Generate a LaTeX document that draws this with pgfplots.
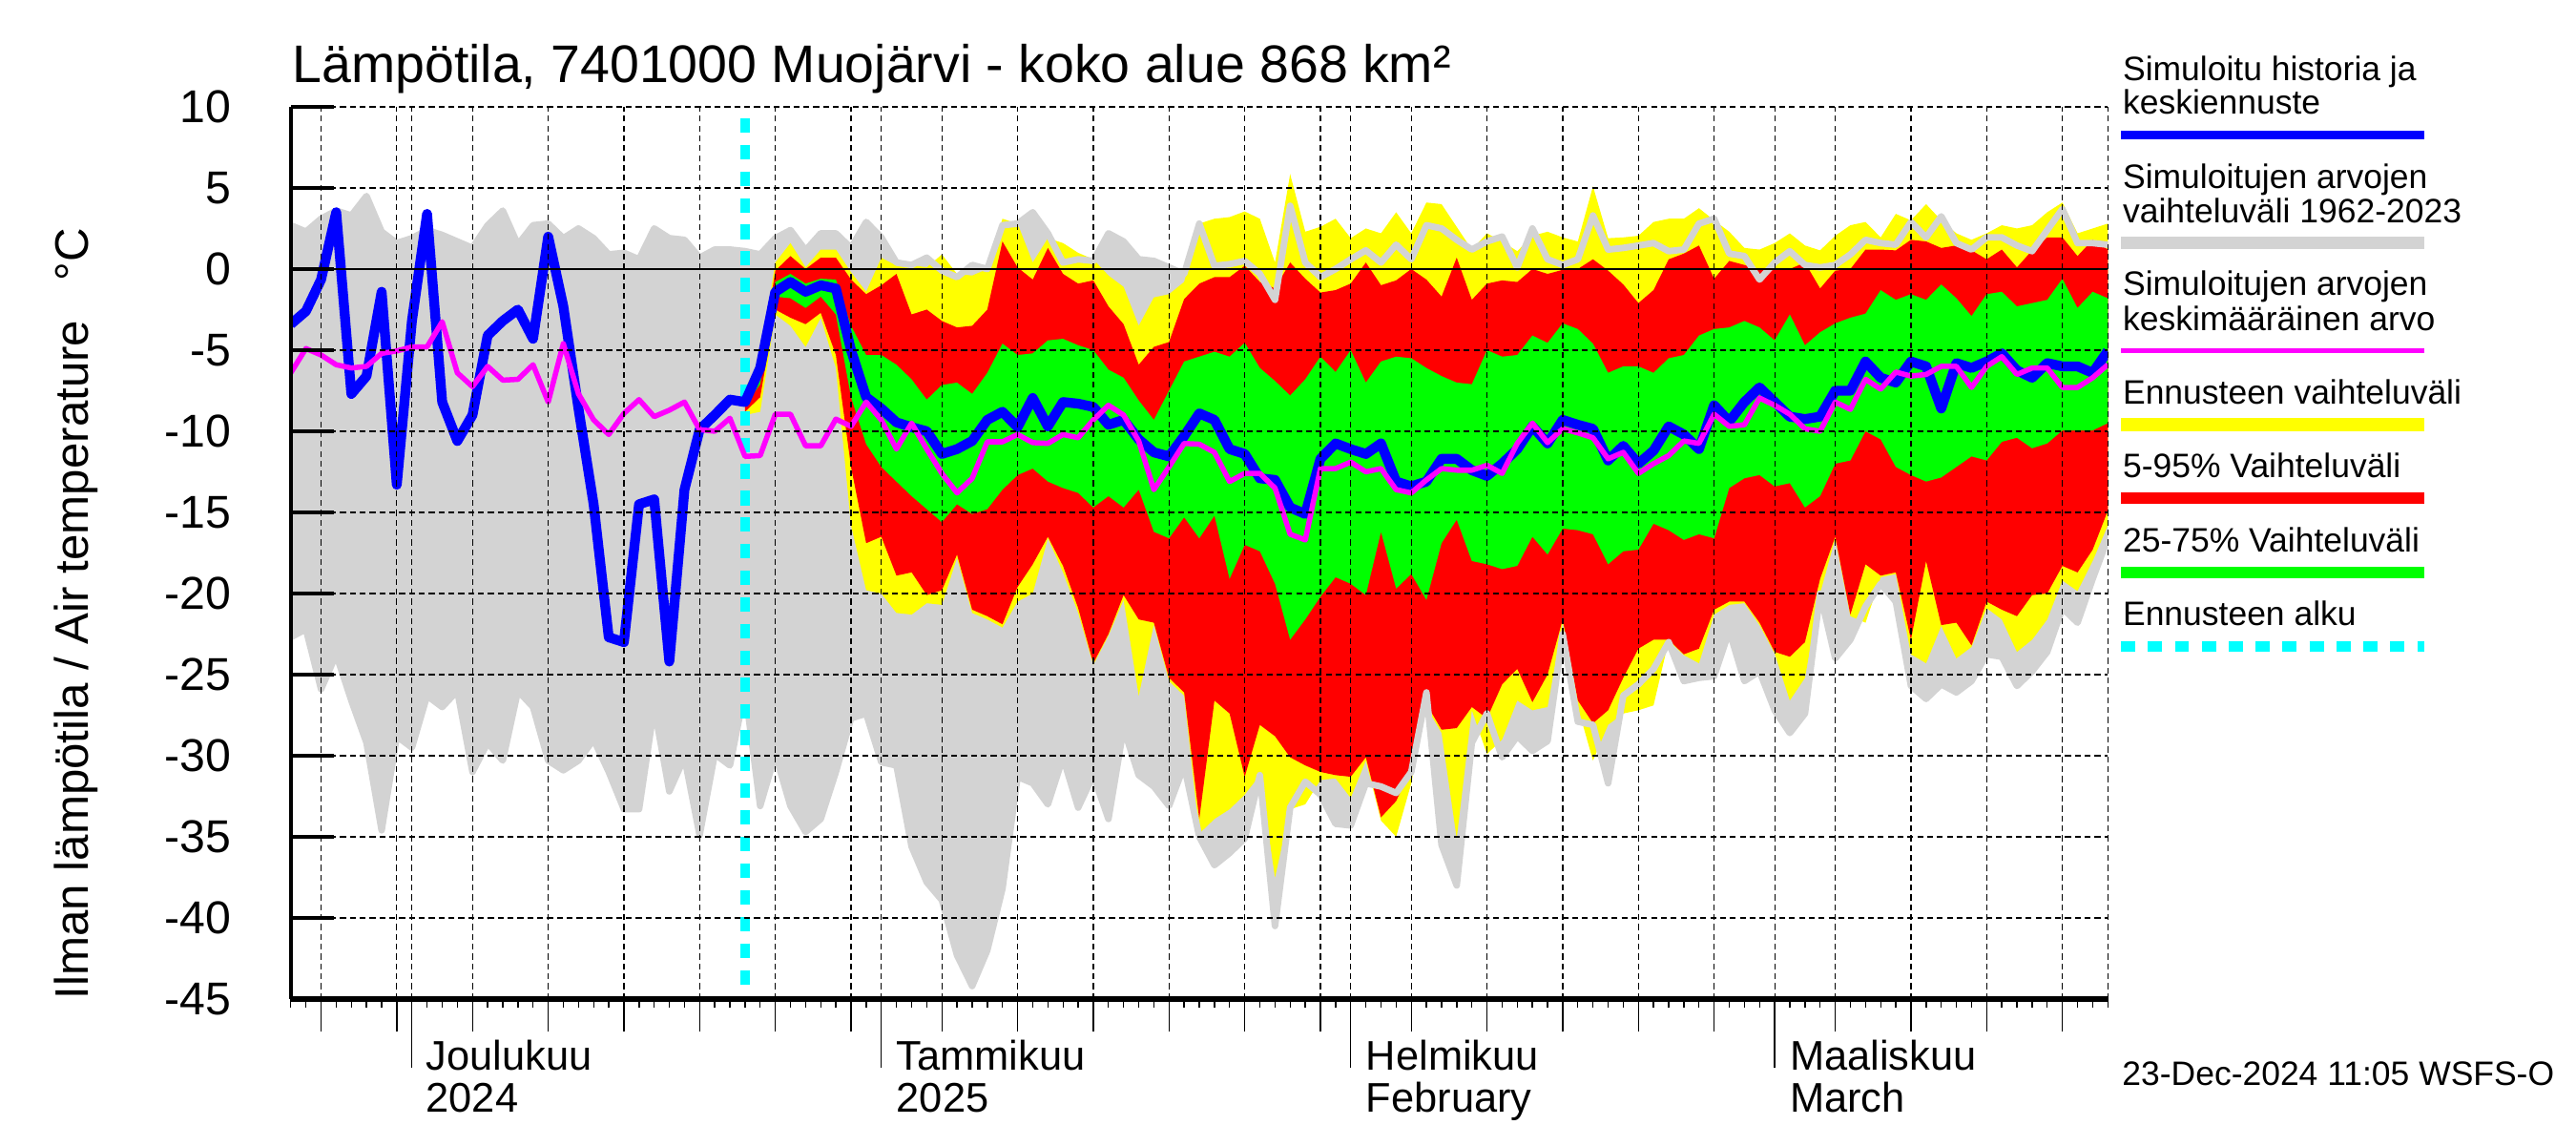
\documentclass[border=0pt]{standalone}
\usepackage{fontspec}
\setmainfont{Liberation Sans}
\usepackage{pgfplots}
\pgfplotsset{compat=1.18}
\usepackage{pgfplotstable}
\usepgfplotslibrary{fillbetween}
\definecolor{lgray}{RGB}{211,211,211}
\definecolor{cyanc}{RGB}{0,255,255}
\definecolor{magc}{RGB}{255,0,255}
\definecolor{yelc}{RGB}{255,255,0}
\definecolor{grnc}{RGB}{0,255,0}
\definecolor{redc}{RGB}{255,0,0}
\definecolor{bluc}{RGB}{0,0,255}

\pgfplotstableread{
d gu gl mn bl
0 2.7 -22.7 -6.4 -3.4
1 2.3 -22.2 -4.9 -2.6
2 3.1 -25.9 -5.3 -0.65
3 3.6 -23.75 -5.9 3.5
4 3.3 -26.6 -6.1 -7.7
5 4.5 -29.2 -6.0 -6.6
6 2.3 -34.6 -5.2 -1.4
7 1.6 -28.8 -5.05 -13.3
8 1.9 -29.5 -4.8 -3.2
9 2.4 -26.3 -4.8 3.4
10 2.1 -27.0 -3.25 -8.2
11 1.7 -26.0 -6.4 -10.6
12 1.3 -31.0 -7.25 -9.0
13 2.7 -29.2 -6.0 -4.1
14 3.6 -30.3 -6.85 -3.2
15 1.5 -26.0 -6.8 -2.5
16 2.7 -27.0 -5.9 -4.3
17 2.8 -30.3 -8.2 2.0
18 1.9 -30.9 -4.6 -2.3
19 2.5 -30.3 -7.7 -8.6
20 1.9 -29.0 -9.3 -14.5
21 0.9 -31.0 -10.2 -22.7
22 1.0 -33.3 -8.9 -23.0
23 0.6 -33.3 -8.05 -14.5
24 2.5 -27.0 -9.1 -14.2
25 1.9 -32.2 -8.7 -24.2
26 1.8 -30.1 -8.2 -13.6
27 0.7 -34.9 -9.9 -9.9
28 1.2 -29.9 -10.0 -9.0
29 1.2 -30.6 -9.2 -8.05
30 1.1 -25.9 -11.55 -8.2
31 0.9 -33.1 -11.5 -6.1
32 1.9 -29.9 -8.95 -1.4
33 2.4 -33.1 -8.95 -0.8
34 1.15 -34.7 -10.9 -1.4
35 2.2 -33.9 -10.9 -1.0
36 2.2 -31.0 -9.25 -1.2
37 1.3 -27.7 -9.7 -5.0
38 2.9 -27.4 -8.2 -7.9
39 1.95 -30.4 -9.3 -8.6
40 0.4 -30.6 -11.1 -9.45
41 0.25 -35.6 -9.5 -9.75
42 0.7 -37.8 -11.1 -10.0
43 -0.1 -38.9 -12.6 -11.4
44 -0.5 -42.3 -13.8 -11.1
45 0.25 -44.2 -12.9 -10.6
46 0 -42.0 -10.65 -9.3
47 2.7 -38.2 -10.65 -8.8
48 2.8 -31.3 -10.2 -9.75
49 3.5 -31.7 -10.7 -7.95
50 2.2 -33.0 -10.75 -9.7
51 0.4 -30.1 -10.2 -8.2
52 0.6 -33.2 -10.4 -8.3
53 0.5 -31.2 -9.3 -8.5
54 2.2 -33.9 -8.4 -9.6
55 1.7 -28.3 -9.0 -9.3
56 0.6 -31.2 -10.6 -10.5
57 0.5 -31.9 -13.6 -11.3
58 0.1 -33.1 -12.2 -11.55
59 -0.3 -30.6 -10.75 -10.3
60 2.8 -35.0 -10.8 -8.9
61 0.2 -36.75 -11.3 -9.3
62 0.3 -36.0 -13.1 -11.1
63 0.5 -35.1 -12.6 -11.4
64 -0.3 -31.2 -12.6 -12.9
65 -1.9 -40.5 -13.5 -13.0
66 3.9 -33.2 -16.35 -14.7
67 0.4 -31.6 -16.7 -15.1
68 -0.5 -32.4 -12.3 -11.7
69 0 -34.2 -12.3 -10.75
70 0.6 -34.3 -11.9 -11.1
71 1.15 -31.7 -12.5 -11.4
72 0.4 -31.9 -12.3 -10.75
73 1.5 -32.3 -13.6 -13.1
74 0.6 -31.0 -13.8 -13.4
75 2.7 -26.1 -13.0 -13.1
76 2.5 -35.5 -12.3 -11.7
77 1.8 -38.0 -12.4 -11.7
78 1.2 -29.2 -12.4 -12.4
79 1.7 -27.4 -12.1 -12.75
80 2.0 -30.1 -12.6 -12.0
81 0.1 -28.8 -10.75 -11.1
82 2.5 -29.7 -9.5 -9.7
83 0.6 -29.1 -10.7 -10.75
84 0.25 -22.5 -9.85 -9.3
85 0.6 -27.9 -10.1 -9.6
86 3.3 -28.1 -10.4 -9.85
87 1.2 -31.7 -11.7 -11.8
88 1.3 -26.3 -11.3 -10.9
89 1.45 -25.6 -12.6 -12.0
90 1.6 -24.65 -12.0 -11.2
91 1.1 -23.0 -11.5 -9.7
92 1.2 -25.4 -10.6 -10.2
93 2.8 -25.2 -10.75 -11.1
94 3.1 -25.1 -8.95 -8.4
95 0.95 -22.3 -9.7 -9.4
96 0.8 -25.4 -9.6 -8.2
97 -0.65 -24.8 -7.95 -7.3
98 0.4 -27.2 -8.4 -8.2
99 1.1 -28.6 -8.95 -9.1
100 0.25 -27.4 -9.85 -9.25
101 0.1 -20.0 -10.0 -9.1
102 0.25 -24.0 -8.2 -7.5
103 0.9 -22.85 -8.65 -7.5
104 1.8 -20.8 -6.8 -5.7
105 1.6 -19.4 -7.4 -6.7
106 1.5 -20.5 -6.35 -7.0
107 2.9 -25.7 -6.6 -5.7
108 1.95 -26.5 -6.5 -6.0
109 3.25 -25.6 -6.0 -8.6
110 1.6 -26.1 -6.0 -5.8
111 1.2 -25.4 -7.3 -6.1
112 1.95 -23.75 -6.0 -5.7
113 1.95 -23.9 -5.4 -5.2
114 1.45 -25.7 -6.5 -6.25
115 1.1 -24.8 -6.1 -6.7
116 2.4 -23.6 -6.1 -5.8
117 3.7 -20.9 -7.3 -6.0
118 1.6 -21.8 -7.3 -6.0
119 1.6 -19.1 -6.7 -6.4
120 1.5 -16.6 -5.9 -5.05
}\hist

\pgfplotstableread{
d yu ru gru grl rl yl
30 -7.4 -7.9 -8.1 -8.4 -8.8 -9.0
31 -5.5 -6.1 -6.4 -7.1 -7.9 -8.8
32 0.4 -0.1 -0.8 -1.7 -2.5 -2.8
33 1.6 0.8 -0.3 -1.8 -3.0 -3.5
34 0.1 0 -0.9 -2.4 -3.4 -4.8
35 1.2 0.7 -0.6 -1.7 -2.7 -3.0
36 1.2 0.7 -0.65 -2.8 -5.3 -6.1
37 -0.2 -0.65 -3.5 -7.9 -12.2 -15.8
38 -1.4 -1.55 -5.3 -10.8 -16.9 -19.8
39 0.7 -1.0 -5.3 -12.2 -16.5 -20.0
40 0.2 -0.3 -5.9 -13.1 -18.9 -21.2
41 0.25 -2.8 -6.8 -14.0 -18.7 -21.3
42 0.1 -2.5 -8.05 -14.8 -20.1 -20.6
43 0.9 -3.2 -7.15 -15.6 -19.8 -20.7
44 -0.3 -3.6 -7.0 -14.5 -17.6 -17.8
45 -0.4 -3.5 -7.7 -15.1 -21.0 -21.2
46 0 -2.5 -6.4 -14.8 -21.4 -21.6
47 3.1 1.7 -4.6 -13.6 -21.9 -22.1
48 2.8 0.1 -5.3 -12.7 -19.6 -20.5
49 0.4 -0.65 -5.2 -12.3 -18.2 -20.0
50 1.9 1.3 -4.4 -13.1 -16.5 -16.6
51 1.6 -0.3 -4.3 -13.5 -18.3 -18.7
52 1.0 -0.9 -4.7 -13.8 -20.9 -21.2
53 0.6 -0.7 -5.0 -14.7 -24.3 -24.4
54 -0.4 -2.3 -6.2 -14.0 -22.5 -22.6
55 -1.1 -3.4 -6.7 -14.7 -20.1 -20.4
56 -3.5 -5.9 -8.1 -13.6 -21.6 -26.3
57 -1.75 -4.8 -9.3 -16.2 -21.8 -21.9
58 -1.55 -4.5 -7.5 -16.6 -25.2 -25.4
59 -0.8 -1.85 -5.7 -15.3 -26.1 -26.3
60 2.8 -0.9 -5.4 -16.6 -33.9 -34.8
61 3.1 -0.5 -5.1 -15.2 -26.6 -33.9
62 3.2 -0.5 -5.4 -19.1 -27.4 -33.3
63 3.55 0.2 -4.55 -17.0 -31.3 -32.4
64 3.1 -0.8 -6.1 -17.4 -28.1 -31.2
65 0.4 -1.2 -6.9 -19.4 -28.8 -37.5
66 5.85 0.4 -7.8 -22.85 -30.1 -33.3
67 2.3 -0.6 -6.8 -21.6 -30.6 -33.0
68 2.6 -1.45 -5.4 -20.2 -31.0 -31.5
69 3.1 -1.3 -6.35 -19.0 -31.2 -31.4
70 1.9 -0.9 -5.0 -19.4 -31.3 -32.6
71 2.5 0.4 -7.0 -20.1 -30.1 -30.3
72 2.2 -1.0 -5.7 -16.2 -33.8 -34.0
73 3.5 -0.7 -5.4 -19.7 -32.8 -35.0
74 2.2 0 -5.5 -18.8 -30.8 -31.7
75 4.1 -0.65 -6.1 -20.4 -26.8 -27.0
76 4.0 -1.7 -6.6 -16.9 -28.4 -28.6
77 2.6 0.7 -7.0 -15.45 -28.3 -35.1
78 1.2 -1.9 -7.1 -18.0 -27.0 -27.2
79 2.2 -0.9 -5.0 -18.2 -27.7 -29.9
80 1.7 -0.7 -5.4 -18.5 -25.6 -29.0
81 1.1 -0.8 -5.3 -18.3 -24.65 -26.6
82 2.05 0 -4.1 -16.5 -26.7 -27.2
83 2.3 -0.3 -4.55 -17.6 -25.0 -27.0
84 1.95 -0.05 -3.35 -16.0 -21.6 -21.8
85 1.7 0 -3.7 -16.1 -26.6 -27.0
86 5.1 0.6 -4.6 -16.35 -28.0 -30.3
87 1.9 -0.1 -6.4 -18.2 -27.2 -28.1
88 1.95 -0.95 -6.0 -17.4 -25.2 -27.4
89 2.05 -2.1 -6.0 -17.3 -23.4 -27.2
90 2.9 -1.3 -6.4 -15.7 -22.85 -26.9
91 3.1 0.6 -5.5 -16.1 -22.85 -22.9
92 3.1 0.95 -5.3 -16.7 -23.75 -23.8
93 3.75 1.45 -4.1 -16.35 -23.4 -24.3
94 3.0 -0.6 -3.7 -16.6 -21.0 -21.3
95 2.3 0.5 -3.6 -13.5 -20.5 -20.7
96 1.3 0.25 -3.2 -12.9 -20.5 -20.6
97 1.2 -0.05 -3.6 -12.7 -21.8 -21.95
98 1.6 -0.05 -4.4 -13.4 -23.6 -23.7
99 2.2 0 -2.8 -13.2 -23.9 -26.6
100 1.45 0.4 -4.7 -14.7 -23.0 -25.2
101 1.15 -1.2 -3.9 -14.0 -19.1 -20.0
102 2.05 -0.1 -3.35 -12.0 -16.5 -16.6
103 2.7 0 -3.0 -11.8 -21.3 -21.4
104 2.9 1.2 -2.75 -10.0 -18.2 -21.8
105 1.95 1.2 -1.3 -10.5 -18.9 -19.0
106 3.4 1.15 -1.9 -12.2 -18.7 -18.8
107 3.0 1.8 -1.55 -12.7 -22.85 -23.75
108 4.0 1.7 -1.9 -13.1 -18.0 -24.3
109 3.0 1.3 -0.95 -12.85 -21.95 -22.0
110 2.2 1.45 -1.8 -12.2 -21.8 -24.0
111 1.8 1.15 -2.9 -11.55 -23.2 -23.3
112 2.2 0.6 -1.55 -11.8 -20.5 -20.9
113 2.7 1.2 -1.4 -10.65 -21.0 -21.6
114 2.5 0.1 -2.3 -10.4 -21.4 -23.6
115 2.7 1.15 -2.1 -11.05 -20.1 -22.85
116 3.5 1.95 -1.9 -10.75 -20.0 -21.6
117 4.1 1.95 -0.6 -9.95 -18.3 -19.2
118 2.2 0.8 -2.4 -9.95 -18.7 -19.85
119 2.5 1.8 -1.4 -9.95 -17.3 -18.0
120 2.8 1.2 -1.8 -9.5 -14.9 -15.8
}\fc

\begin{document}
\begin{tikzpicture}

\begin{axis}[
  at={(0pt,0pt)}, anchor=south west, scale only axis,
  width=553pt, height=271.5pt,
  xmin=0, xmax=120, ymin=-45, ymax=10,
  axis x line=bottom, axis y line=left,
  axis line style={-},
  x axis line style={line width=1.5pt},
  y axis line style={line width=1.2pt},
  xtick={2,7,8,12,17,22,27,32,37,39,43,48,53,58,63,68,70,74,79,84,89,94,98,102,107,112,117,120},
  xticklabels={},
  xtick style={draw=none},
  ytick={-45,-40,-35,-30,-25,-20,-15,-10,-5,0,5,10},
  yticklabels={-45,-40,-35,-30,-25,-20,-15,-10,-5,0,5,10},
  ytick align=inside,
  major tick length=13pt,
  ytick style={line width=1.2pt, black},
  yticklabel style={font=\fontsize{14}{16}\selectfont, anchor=east, inner sep=0pt, xshift=-18pt},
  grid=major,
  major grid style={black, line width=0.35pt, dash pattern=on 1.8pt off 1.2pt},
  extra y ticks={0}, extra y tick labels={},
  extra y tick style={grid=major, major grid style={solid, black, line width=0.45pt}},
  axis on top,
  no markers,
]
\addplot[name path=GU, draw=none] table[x=d,y=gu]{\hist};
\addplot[name path=GL, draw=none] table[x=d,y=gl]{\hist};
\addplot[fill=lgray, draw=none] fill between[of=GU and GL];
\addplot[name path=YU, draw=none] table[x=d,y=yu]{\fc};
\addplot[name path=YL, draw=none] table[x=d,y=yl]{\fc};
\addplot[name path=RU, draw=none] table[x=d,y=ru]{\fc};
\addplot[name path=RL, draw=none] table[x=d,y=rl]{\fc};
\addplot[name path=NU, draw=none] table[x=d,y=gru]{\fc};
\addplot[name path=NL, draw=none] table[x=d,y=grl]{\fc};
\addplot[fill=yelc, draw=none] fill between[of=YU and YL];
\addplot[fill=redc, draw=none] fill between[of=RU and RL];
\addplot[fill=grnc, draw=none] fill between[of=NU and NL];
\addplot[lgray, line width=2pt, line join=round] table[x=d,y=gu]{\hist};
\addplot[lgray, line width=2pt, line join=round] table[x=d,y=gl]{\hist};
\addplot[cyanc, line width=2.9pt, dash pattern=on 4.4pt off 3.7pt] coordinates {(30,9.3) (30,-45)};
\addplot[bluc, line width=3pt, line join=round] table[x=d,y=bl]{\hist};
\addplot[magc, line width=1.6pt, line join=round] table[x=d,y=mn]{\hist};
\end{axis}

\begin{axis}[
  at={(0pt,0pt)}, anchor=south west, scale only axis,
  width=553pt, height=271.5pt,
  xmin=0, xmax=120, ymin=0, ymax=1,
  axis x line=bottom, axis y line=none,
  x axis line style={draw=none},
  xtick={2,7,12,17,22,27,32,37,43,48,53,58,63,68,74,79,84,89,94,102,107,112,117},
  minor xtick={0,1,...,120},
  xticklabels={},
  xtick align=outside,
  major tick length=10pt, minor tick length=2.7pt,
  tick style={black, line width=0.4pt},
]
\addplot[draw=none, mark=none] coordinates {(0,0) (120,1)};
\end{axis}

\begin{axis}[
  at={(0pt,0pt)}, anchor=south west, scale only axis,
  width=553pt, height=271.5pt,
  xmin=0, xmax=120, ymin=0, ymax=1,
  axis x line=bottom, axis y line=none,
  x axis line style={draw=none},
  xtick={8,39,70,98},
  xticklabels={},
  xtick align=outside,
  major tick length=21pt,
  tick style={black, line width=0.4pt},
]
\addplot[draw=none, mark=none] coordinates {(0,0) (120,1)};
\end{axis}

% title
\node[anchor=base west, inner sep=0pt, font=\fontsize{16.1}{19}\selectfont] at (0.3pt,278.8pt) {Lämpötila, 7401000 Muojärvi - koko alue 868 km²};
% y label
\node[rotate=90, anchor=base west, inner sep=0pt, font=\fontsize{14.3}{17}\selectfont] at (-61.5pt,-0.3pt) {Ilman lämpötila / Air temperature\hspace{12pt}°C};

% month labels
\begin{scope}[every node/.style={anchor=base west, inner sep=0pt, font=\fontsize{12.6}{14}\selectfont}]
\node at (41pt,-21.75pt) {Joulukuu};
\node at (41pt,-34.3pt) {2024};
\node at (184.2pt,-21.75pt) {Tammikuu};
\node at (184.2pt,-34.3pt) {2025};
\node at (327.1pt,-21.75pt) {Helmikuu};
\node at (327.1pt,-34.3pt) {February};
\node at (456.1pt,-21.75pt) {Maaliskuu};
\node at (456.1pt,-34.3pt) {March};
\end{scope}

% legend
\begin{scope}[every node/.style={anchor=base west, inner sep=0pt, font=\fontsize{10.3}{12}\selectfont}]
\node at (557.4pt,279.5pt) {Simuloitu historia ja};
\node at (557.4pt,269.25pt) {keskiennuste};
\draw[bluc, line width=2.6pt] (557pt,262.8pt) -- (649.4pt,262.8pt);
\node at (557.4pt,246.75pt) {Simuloitujen arvojen};
\node at (557.4pt,236.3pt) {vaihteluväli 1962-2023};
\draw[lgray, line width=3.6pt] (557pt,230.1pt) -- (649.4pt,230.1pt);
\node at (557.4pt,214pt) {Simuloitujen arvojen};
\node at (557.4pt,203.5pt) {keskimääräinen arvo};
\draw[magc, line width=1.3pt] (557pt,197.3pt) -- (649.4pt,197.3pt);
\node at (557.4pt,181.1pt) {Ennusteen vaihteluväli};
\draw[yelc, line width=3.9pt] (557pt,174.75pt) -- (649.4pt,174.75pt);
\node at (557.4pt,158.8pt) {5-95\% Vaihteluväli};
\draw[redc, line width=3.6pt] (557pt,152.35pt) -- (649.4pt,152.35pt);
\node at (557.4pt,136.1pt) {25-75\% Vaihteluväli};
\draw[grnc, line width=3.6pt] (557pt,129.7pt) -- (649.4pt,129.7pt);
\node at (557.4pt,113.7pt) {Ennusteen alku};
\draw[cyanc, line width=3.1pt, dash pattern=on 4.3pt off 3.9pt] (557pt,107.2pt) -- (649.4pt,107.2pt);
\node at (557.2pt,-26.3pt) {23-Dec-2024 11:05 WSFS-O};
\end{scope}

\pgfresetboundingbox
\path (-88.5pt,-44.5pt) rectangle (695.5pt,304pt);
\end{tikzpicture}
\end{document}
